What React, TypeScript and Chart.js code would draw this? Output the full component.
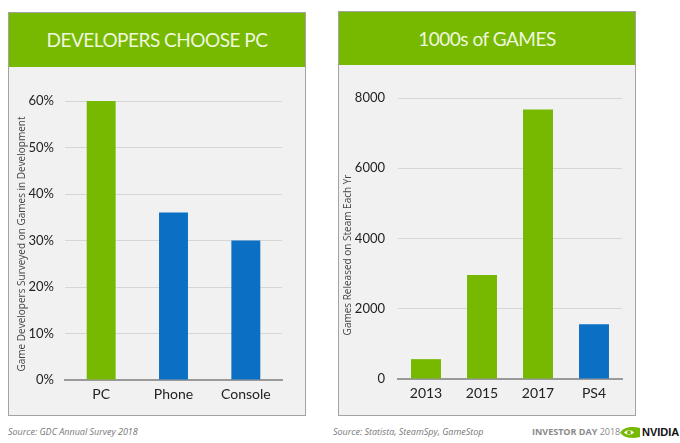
import React, { useEffect, useRef } from 'react';
import { Chart, registerables } from 'chart.js';

Chart.register(...registerables);

const GREEN = '#76b900';
const BLUE = '#0b6fc4';

const devCategories = ['PC', 'Phone', 'Console'];
const devValues = [60, 36, 30];
const devColors = [GREEN, BLUE, BLUE];
const devMax = 60;
const devStep = 10;

const gameCategories = ['2013', '2015', '2017', 'PS4'];
const gameValues = [565, 2964, 7672, 1560];
const gameColors = [GREEN, GREEN, GREEN, BLUE];
const gameMax = 8000;
const gameStep = 2000;

const FONT = 'Lato, "Open Sans", sans-serif';
const SMALL_FONT = '"Open Sans", "DejaVu Sans", sans-serif';

type PanelProps = {
  left: number;
  top: number;
  width: number;
  height: number;
  headerH: number;
  title: string;
  categories: string[];
  values: number[];
  colors: string[];
  max: number;
  step: number;
  suffix: string;
  yTitle: string;
  yTitlePos: { x: number; y: number };
  padTop: number;
  padRight: number;
  yWidth: number;
  xHeight: number;
  barPct: number;
  yTickPad: number;
};

function Panel(p: PanelProps) {
  const ref = useRef<HTMLCanvasElement | null>(null);
  const cw = p.width - 2;
  const ch = p.height - p.headerH - 2;
  useEffect(() => {
    if (!ref.current) return;
    const yTitlePlugin = {
      id: 'yTitleDraw',
      afterDraw(chart: any) {
        const ctx = chart.ctx;
        ctx.save();
        ctx.translate(p.yTitlePos.x, p.yTitlePos.y);
        ctx.rotate(-Math.PI / 2);
        ctx.fillStyle = '#444';
        ctx.font = `10px ${SMALL_FONT}`;
        ctx.textAlign = 'center';
        ctx.textBaseline = 'middle';
        ctx.fillText(p.yTitle, 0, 0);
        ctx.restore();
      },
    };
    const chart = new Chart(ref.current, {
      type: 'bar',
      data: {
        labels: p.categories,
        datasets: [
          {
            data: p.values,
            backgroundColor: p.colors,
            borderWidth: 0,
            categoryPercentage: 1,
            barPercentage: p.barPct,
          },
        ],
      },
      options: {
        responsive: false,
        maintainAspectRatio: false,
        animation: false,
        layout: { padding: { top: p.padTop, right: p.padRight, left: 0, bottom: 0 } },
        plugins: { legend: { display: false }, tooltip: { enabled: false } },
        scales: {
          x: {
            grid: { display: false, drawTicks: false },
            border: { display: true, color: '#9a9a9a', width: 2 },
            ticks: { color: '#222', font: { family: FONT, size: 14 }, padding: 6 },
            afterFit: (s: any) => {
              s.height = p.xHeight;
            },
          },
          y: {
            min: 0,
            max: p.max,
            ticks: {
              stepSize: p.step,
              color: '#222',
              font: { family: FONT, size: 13 },
              padding: p.yTickPad,
              callback: (v: any) => `${v}${p.suffix}`,
            },
            grid: {
              drawTicks: false,
              color: (c: any) => (c.tick && c.tick.value === 0 ? 'rgba(0,0,0,0)' : '#d6d6d6'),
              lineWidth: 1,
            },
            border: { display: false },
            afterFit: (s: any) => {
              s.width = p.yWidth;
            },
          },
        },
      },
      plugins: [yTitlePlugin],
    });
    return () => chart.destroy();
  }, []);
  return (
    <div
      style={{
        position: 'absolute',
        left: p.left,
        top: p.top,
        width: p.width,
        height: p.height,
        boxSizing: 'border-box',
        border: '1px solid #a3a3a3',
        background: '#f1f1f1',
      }}
    >
      <div
        style={{
          height: p.headerH,
          background: GREEN,
          color: '#eef7de',
          fontFamily: FONT,
          fontSize: 19,
          letterSpacing: '-0.5px',
          lineHeight: `${p.headerH}px`,
          textAlign: 'center',
          whiteSpace: 'nowrap',
        }}
      >
        {p.title}
      </div>
      <canvas
        ref={ref}
        width={cw}
        height={ch}
        style={{ display: 'block', width: cw, height: ch }}
      />
    </div>
  );
}

export default function App() {
  return (
    <div
      style={{
        position: 'absolute',
        left: 0,
        top: 0,
        width: 680,
        height: 443,
        background: '#ffffff',
        overflow: 'hidden',
        fontFamily: SMALL_FONT,
      }}
    >
      <Panel
        left={8}
        top={12}
        width={298}
        height={404}
        headerH={54}
        title="DEVELOPERS CHOOSE PC"
        categories={devCategories}
        values={devValues}
        colors={devColors}
        max={devMax}
        step={devStep}
        suffix="%"
        yTitle="Game Developers Surveyed on Games in Development"
        yTitlePos={{ x: 13, y: 177 }}
        padTop={34}
        padRight={23}
        yWidth={56}
        xHeight={35}
        barPct={0.4}
        yTickPad={11}
      />
      <Panel
        left={338}
        top={11}
        width={298}
        height={405}
        headerH={53}
        title="1000s of GAMES"
        categories={gameCategories}
        values={gameValues}
        colors={gameColors}
        max={gameMax}
        step={gameStep}
        suffix=""
        yTitle="Games Released on Steam Each Yr"
        yTitlePos={{ x: 9, y: 190 }}
        padTop={33}
        padRight={13}
        yWidth={59}
        xHeight={36}
        barPct={0.535}
        yTickPad={13}
      />
      <div
        style={{
          position: 'absolute',
          left: 8,
          top: 425,
          fontSize: 9,
          fontStyle: 'italic',
          color: '#777',
          whiteSpace: 'nowrap',
        }}
      >
        Source: GDC Annual Survey 2018
      </div>
      <div
        style={{
          position: 'absolute',
          left: 333,
          top: 425,
          fontSize: 9,
          fontStyle: 'italic',
          color: '#777',
          whiteSpace: 'nowrap',
        }}
      >
        Source: Statista, SteamSpy, GameStop
      </div>
      <div
        style={{
          position: 'absolute',
          left: 532,
          top: 425,
          fontSize: 9,
          color: '#8a8a8a',
          whiteSpace: 'nowrap',
        }}
      >
        <span style={{ fontWeight: 700 }}>INVESTOR DAY</span> 2018
      </div>
      <svg
        style={{ position: 'absolute', left: 620, top: 427 }}
        width={20}
        height={11}
        viewBox="0 0 20 11"
      >
        <path d="M0 5.5 C4 0 12 -1 20 1 L20 10 C12 12 4 11 0 5.5 Z" fill={GREEN} />
        <path d="M4 5.5 C7 2.5 11 2.5 14 5.5 C11 8.5 7 8.5 4 5.5 Z" fill="#ffffff" />
        <circle cx={9} cy={5.5} r={2} fill={GREEN} />
      </svg>
      <div
        style={{
          position: 'absolute',
          left: 642,
          top: 425,
          fontSize: 11,
          lineHeight: '14px',
          fontWeight: 700,
          fontFamily: '"Liberation Sans", sans-serif',
          color: '#111',
          whiteSpace: 'nowrap',
        }}
      >
        NVIDIA
      </div>
    </div>
  );
}
